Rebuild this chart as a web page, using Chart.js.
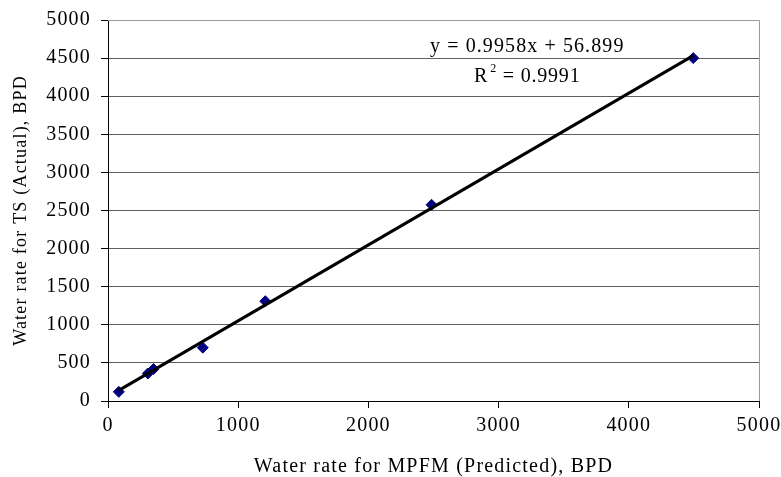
<!DOCTYPE html>
<html>
<head>
<meta charset="utf-8">
<script src="https://cdn.jsdelivr.net/npm/chart.js@4"></script>
<style>
html,body{margin:0;padding:0;background:#fff;}
#wrap{width:781px;height:477px;}
</style>
</head>
<body>
<div id="wrap"><canvas id="c" width="781" height="477"></canvas></div>
<script>
const predictedX = [83, 306, 350, 728, 1208, 2485, 4495];
const actualY = [120, 361, 420, 700, 1310, 2575, 4500];
const slope = 0.9958;
const intercept = 56.899;
const equationText = "y = 0.9958x + 56.899";
const r2Value = "0.9991";
const xTitle = "Water rate for MPFM (Predicted), BPD";
const yTitle = "Water rate for TS (Actual), BPD";

const pts = predictedX.map((x, i) => ({x: x, y: actualY[i]}));
const xmin = Math.min(...predictedX), xmax = Math.max(...predictedX);
const trend = [{x: xmin, y: slope * xmin + intercept}, {x: xmax, y: slope * xmax + intercept}];

const FONT = "'Liberation Serif', 'Times New Roman', serif";

const framePlugin = {
  id: 'frame',
  beforeLayout(chart) { chart.ctx.letterSpacing = '1.2px'; },
  beforeDraw(chart) { chart.ctx.letterSpacing = '1.2px'; },
  beforeDatasetsDraw(chart) {
    const {ctx, chartArea: a} = chart;
    ctx.save();
    ctx.strokeStyle = '#9a9a9a';
    ctx.lineWidth = 1;
    ctx.beginPath();
    ctx.moveTo(a.left, a.top + 0.5);
    ctx.lineTo(a.right + 0.5, a.top + 0.5);
    ctx.lineTo(a.right + 0.5, a.bottom);
    ctx.stroke();
    ctx.restore();
  },
  afterDatasetsDraw(chart) {
    const {ctx, scales} = chart;
    ctx.save();
    ctx.fillStyle = '#000';
    ctx.textBaseline = 'alphabetic';
    const cx = scales.x.getPixelForValue(3220);
    // equation line
    ctx.letterSpacing = '1.1px';
    ctx.font = "20px " + FONT;
    ctx.textAlign = 'center';
    ctx.fillText(equationText, cx, scales.y.getPixelForValue(4585));
    // R^2 line
    ctx.textAlign = 'left';
    ctx.letterSpacing = '0.8px';
    const ry = scales.y.getPixelForValue(4192);
    ctx.font = "20px " + FONT;
    const wR = ctx.measureText("R").width;
    const rest = " = " + r2Value;
    const wRest = ctx.measureText(rest).width;
    ctx.font = "12px " + FONT;
    const w2 = ctx.measureText("2").width;
    const total = wR + 2 + w2 + wRest;
    let x0 = cx - total / 2;
    ctx.font = "20px " + FONT;
    ctx.fillText("R", x0, ry);
    ctx.font = "12px " + FONT;
    ctx.fillText("2", x0 + wR + 2, ry - 10);
    ctx.font = "20px " + FONT;
    ctx.fillText(rest, x0 + wR + 2 + w2, ry);
    ctx.restore();
  }
};

new Chart(document.getElementById('c'), {
  type: 'scatter',
  data: {
    datasets: [
      {
        type: 'line',
        data: trend,
        borderColor: '#000',
        borderWidth: 3,
        pointRadius: 0,
        fill: false,
        order: 0
      },
      {
        data: pts,
        pointStyle: 'rectRot',
        pointRadius: 5.5,
        backgroundColor: '#000080',
        borderColor: '#000080',
        borderWidth: 1,
        order: 1
      }
    ]
  },
  plugins: [framePlugin],
  options: {
    responsive: false,
    animation: false,
    devicePixelRatio: 1,
    layout: {padding: {left: 0, top: 20, right: 22, bottom: 0}},
    plugins: {legend: {display: false}, tooltip: {enabled: false}},
    scales: {
      x: {
        type: 'linear',
        min: 0, max: 5000,
        ticks: {stepSize: 1000, color: '#000', font: {family: FONT, size: 20}, padding: 6, maxRotation: 0,
                callback: v => String(v)},
        grid: {drawOnChartArea: false, drawTicks: true, tickLength: 7, tickColor: '#000'},
        border: {color: '#000', width: 1},
        title: {display: true, text: xTitle, color: '#000', font: {family: FONT, size: 20, lineHeight: 1.0}, padding: {top: 0, bottom: 0}},
        afterFit(s) { s.height = 76; s.paddingRight = 0; s.paddingLeft = 0; }
      },
      y: {
        type: 'linear',
        min: 0, max: 5000,
        ticks: {stepSize: 500, color: '#000', font: {family: FONT, size: 20}, padding: 10,
                callback: v => String(v)},
        grid: {color: '#606060', drawTicks: true, tickLength: 7, tickColor: '#000'},
        border: {color: '#000', width: 1},
        title: {display: true, text: yTitle, color: '#000', font: {family: FONT, size: 18}, padding: {top: 10, bottom: 0}},
        afterFit(s) { s.width = 108; s.paddingTop = 0; s.paddingBottom = 0; }
      }
    }
  }
});
</script>
</body>
</html>
